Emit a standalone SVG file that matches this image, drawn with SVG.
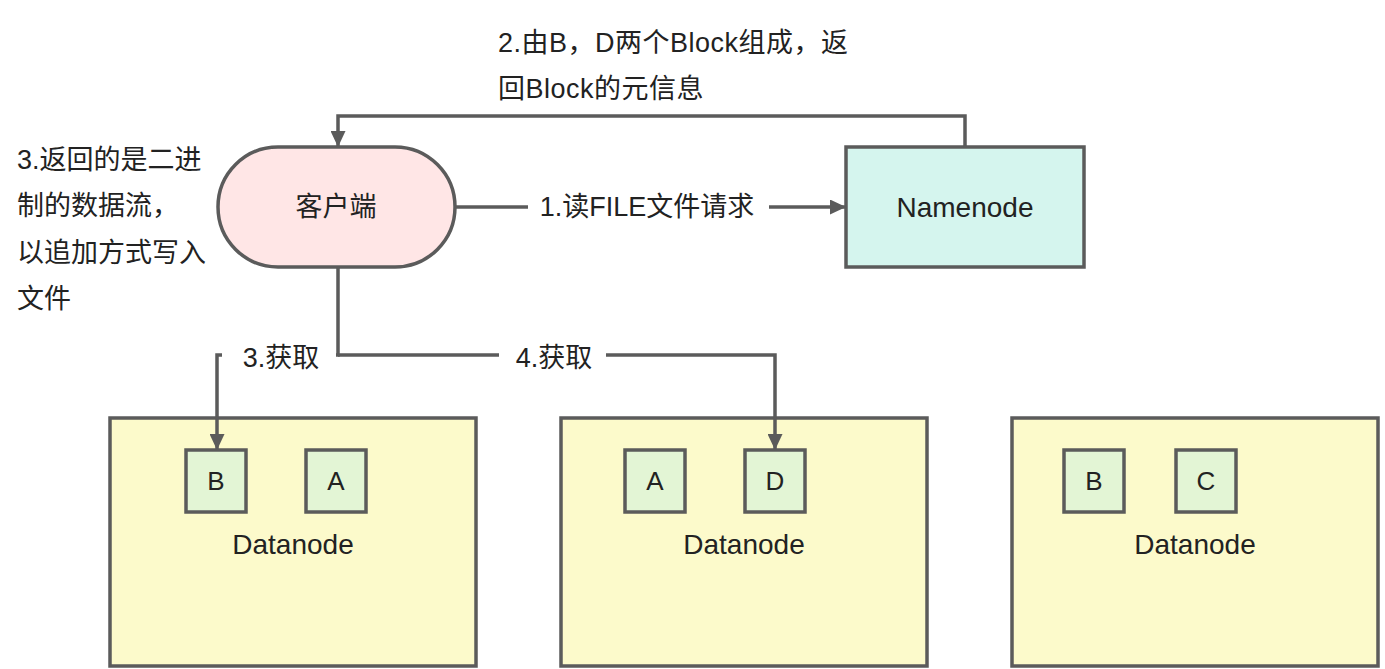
<svg xmlns="http://www.w3.org/2000/svg" width="1385" height="669" viewBox="0 0 1385 669">
<defs>
<style>
text{font-family:"Liberation Sans","Noto Sans CJK SC",sans-serif;font-size:27px;fill:#222;}
.c{text-anchor:middle;dominant-baseline:central;}
.lat{font-size:28px;}
.bl{font-size:26px;}
.edge{fill:none;stroke:#5b5b5b;stroke-width:3.5;marker-end:url(#ah);}
.dn{fill:#fcfacb;stroke:#5b5b5b;stroke-width:3.5;}
.blk{fill:#e3f5d5;stroke:#5b5b5b;stroke-width:3.5;}
.lbl{fill:#fff;}
</style>
<marker id="ah" viewBox="0 0 16 15" refX="15" refY="7.5" markerWidth="16" markerHeight="15" markerUnits="userSpaceOnUse" orient="auto">
<path d="M0,0 L16,7.5 L0,15 z" fill="#5b5b5b"/>
</marker>
</defs>
<rect width="1385" height="669" fill="#fff"/>

<g id="note-top">
<text x="498" y="52" letter-spacing="0.5">2.由B，D两个Block组成，返</text>
<text x="498" y="98" letter-spacing="0.5">回Block的元信息</text>
</g>

<g id="note-left">
<text x="17" y="169">3.返回的是二进</text>
<text x="17" y="215">制的数据流，</text>
<text x="17" y="262">以追加方式写入</text>
<text x="17" y="308">文件</text>
</g>

<g id="client">
<rect x="218" y="147" width="237" height="120" rx="60" ry="60" fill="#ffe6e6" stroke="#5b5b5b" stroke-width="3.5"/>
<text class="c" x="336" y="207">客户端</text>
</g>

<g id="namenode">
<rect x="846" y="147" width="238" height="120" fill="#d5f5ee" stroke="#5b5b5b" stroke-width="3.5"/>
<text class="c lat" x="965" y="207">Namenode</text>
</g>

<g id="datanode1">
<rect class="dn" x="110" y="418" width="366" height="248"/>
<rect class="blk" x="186" y="450" width="60" height="62"/>
<text class="c bl" x="216" y="481">B</text>
<rect class="blk" x="306" y="450" width="60" height="62"/>
<text class="c bl" x="336" y="481">A</text>
<text class="c lat" x="293" y="544">Datanode</text>
</g>

<g id="datanode2">
<rect class="dn" x="561" y="418" width="366" height="248"/>
<rect class="blk" x="625" y="450" width="60" height="62"/>
<text class="c bl" x="655" y="481">A</text>
<rect class="blk" x="745" y="450" width="60" height="62"/>
<text class="c bl" x="775" y="481">D</text>
<text class="c lat" x="744" y="544">Datanode</text>
</g>

<g id="datanode3">
<rect class="dn" x="1012" y="418" width="366" height="248"/>
<rect class="blk" x="1064" y="450" width="60" height="62"/>
<text class="c bl" x="1094" y="481">B</text>
<rect class="blk" x="1176" y="450" width="60" height="62"/>
<text class="c bl" x="1206" y="481">C</text>
<text class="c lat" x="1195" y="544">Datanode</text>
</g>

<g id="connectors">
<path class="edge" d="M965,147 V116 H338 V146"/>
<path class="edge" d="M455,207 H845"/>
<path class="edge" d="M338,267 V355 H217 V449"/>
<path class="edge" d="M338,355 H775 V449"/>
<rect class="lbl" x="528" y="192" width="241" height="30"/>
<text class="c" x="647" y="207">1.读FILE文件请求</text>
<rect class="lbl" x="222" y="342" width="114" height="30"/>
<text class="c" x="281" y="358">3.获取</text>
<rect class="lbl" x="499" y="342" width="107" height="30"/>
<text class="c" x="554" y="358">4.获取</text>
</g>
</svg>
